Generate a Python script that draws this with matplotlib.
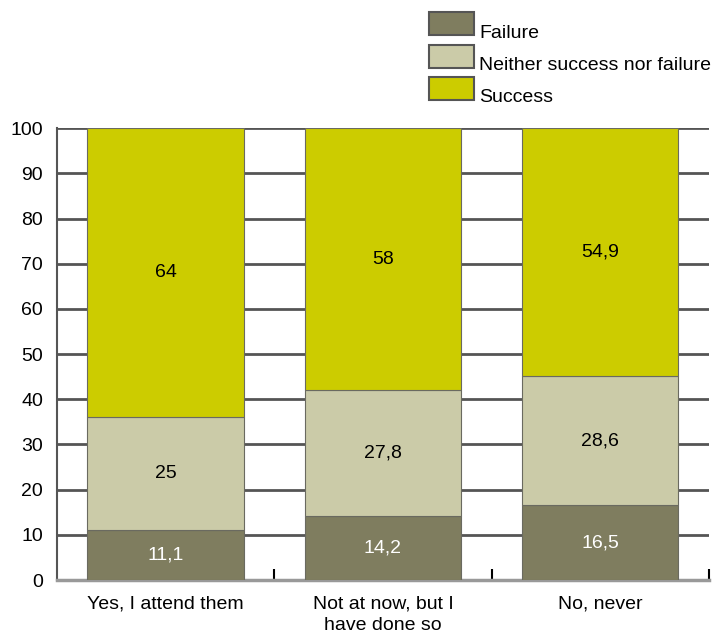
import matplotlib.pyplot as plt
from matplotlib.patches import Rectangle

categories = ["Yes, I attend them", "Not at now, but I\nhave done so", "No, never"]
failure = [11.1, 14.2, 16.5]
neither = [25, 27.8, 28.6]
success = [64, 58, 54.9]
series_names = ["Failure", "Neither success nor failure", "Success"]
colors = ["#7f7d5f", "#cbcba8", "#cccc00"]
text_colors = ["white", "black", "black"]

W, H = 716, 635


def fmt(v):
    return ("%g" % v).replace(".", ",")


def main():
    plt.rcParams["font.family"] = ["Liberation Sans", "DejaVu Sans"]
    fig = plt.figure(figsize=(W / 100, H / 100), dpi=100)
    ax = fig.add_axes([0.0796, 0.0866, 0.9104, 0.7114])

    x = list(range(len(categories)))
    bottom = [0, 0, 0]
    for vals, col, tcol in zip([failure, neither, success], colors, text_colors):
        bars = ax.bar(x, vals, width=0.72, bottom=bottom, color=col,
                      edgecolor="#6a6a60", linewidth=0.8, zorder=3)
        for b, v, b0 in zip(bars, vals, bottom):
            ax.text(b.get_x() + b.get_width() / 2, b0 + v / 2, fmt(v),
                    ha="center", va="center", fontsize=14, color=tcol,
                    zorder=4)
        bottom = [b0 + v for b0, v in zip(bottom, vals)]

    ax.set_xlim(-0.5, 2.5)
    ax.set_ylim(0, 100)
    ax.set_yticks(range(0, 101, 10))
    ax.tick_params(axis="y", length=0, labelsize=14, pad=10)
    for y in range(10, 101, 10):
        ax.axhline(y, color="#555555", linewidth=2, zorder=1)

    ax.set_xticks(x)
    ax.set_xticklabels(categories, fontsize=14, linespacing=1.35)
    ax.set_xticks([0.5, 1.5, 2.5], minor=True)
    ax.tick_params(axis="x", which="major", length=0, pad=11)
    ax.tick_params(axis="x", which="minor", direction="in", length=8,
                   width=1.5, color="black")

    for s in ["top", "right"]:
        ax.spines[s].set_visible(False)
    ax.spines["left"].set_color("#555555")
    ax.spines["left"].set_linewidth(1.5)
    ax.spines["bottom"].set_color("#999999")
    ax.spines["bottom"].set_linewidth(2.5)

    # legend drawn by hand: text sits a little below each swatch
    for i, (name, col) in enumerate(zip(series_names, colors)):
        top = 12 + i * 32.5
        fig.add_artist(Rectangle((429 / W, 1 - (top + 23) / H), 45 / W, 23 / H,
                                 facecolor=col, edgecolor="#555555",
                                 linewidth=1.5, transform=fig.transFigure))
        fig.text(479 / W, 1 - (top + 21) / H, name, fontsize=14,
                 ha="left", va="center")

    fig.savefig("out.png", dpi=100)


if __name__ == "__main__":
    main()
